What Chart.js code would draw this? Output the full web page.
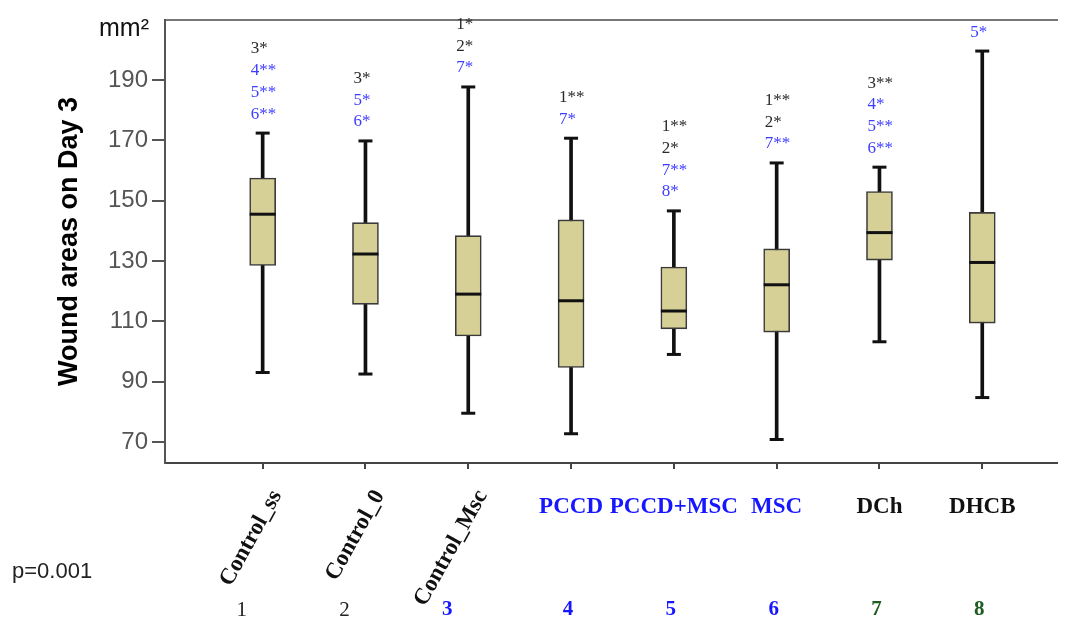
<!DOCTYPE html>
<html>
<head>
<meta charset="utf-8">
<title>Wound areas on Day 3</title>
<script src="https://cdn.jsdelivr.net/npm/chart.js@4.4.1/dist/chart.umd.min.js"></script>
<style>
  html, body { margin: 0; padding: 0; background: #ffffff; }
  #wrap { width: 1073px; height: 621px; }
</style>
</head>
<body>
<div id="wrap"><canvas id="woundChart" width="1073" height="621"></canvas></div>
<script>
// Groups and box-plot summaries (mm²)
const groups = ['Control_ss', 'Control_0', 'Control_Msc', 'PCCD', 'PCCD+MSC', 'MSC', 'DCh', 'DHCB'];
const groupNumbers = ['1', '2', '3', '4', '5', '6', '7', '8'];
const whiskerLow  = [93.0, 92.5, 79.5, 72.7, 99.0, 70.8, 103.2, 84.7];
const q1          = [128.5, 115.6, 105.1, 94.7, 107.5, 106.4, 130.3, 109.4];
const median      = [145.5, 132.3, 119.0, 116.8, 113.4, 122.1, 139.4, 129.5];
const q3          = [157.5, 142.7, 138.4, 143.6, 128.0, 134.0, 153.0, 146.1];
const whiskerHigh = [172.4, 169.8, 187.7, 170.7, 146.6, 162.5, 161.1, 199.6];
const yTicks = [70, 90, 110, 130, 150, 170, 190];

// Pairwise significance marks shown above each group
const sigMarks = [
  ['3*', '4**', '5**', '6**'],
  ['3*', '5*', '6*'],
  ['1*', '2*', '7*'],
  ['1**', '7*'],
  ['1**', '2*', '7**', '8*'],
  ['1**', '2*', '7**'],
  ['3**', '4*', '5**', '6**'],
  ['5*']
];
const sigHighlighted = [
  [false, true, true, true],
  [false, true, true],
  [false, false, true],
  [false, true],
  [false, false, true, true],
  [false, false, true],
  [false, true, true, true],
  [true]
];
const pValue = 'p=0.001';
const yUnit = 'mm²';
const yTitle = 'Wound areas on Day 3';

// Styling
const BOX_FILL = '#d6d096';
const INK = '#111111';
const MARK_BLUE = '#3d3dff';
const LABEL_BLUE = '#1616ff';
const NUM_GREEN = '#1f5c1f';
const labelInk = ['#111', '#111', '#111', LABEL_BLUE, LABEL_BLUE, LABEL_BLUE, '#111', '#111'];
const numberInk = ['#222', '#222', LABEL_BLUE, LABEL_BLUE, LABEL_BLUE, LABEL_BLUE, NUM_GREEN, NUM_GREEN];
const numberBold = [false, false, true, true, true, true, true, true];
const SANS = '"Liberation Sans", Arial, sans-serif';
const SERIF = '"Liberation Serif", "Times New Roman", serif';

const xs = groups.map((_, i) => i + 1);

const annotate = {
  id: 'annotate',
  afterDraw(chart) {
    const { ctx, chartArea, scales: { x, y } } = chart;
    ctx.save();

    // unit above the y axis
    ctx.fillStyle = '#111';
    ctx.font = '25px ' + SANS;
    ctx.textAlign = 'right';
    ctx.textBaseline = 'alphabetic';
    ctx.fillText(yUnit, 149, 36);

    // y axis title
    ctx.save();
    ctx.translate(70, (chartArea.top + chartArea.bottom) / 2);
    ctx.rotate(-Math.PI / 2);
    ctx.font = 'bold 27px ' + SANS;
    ctx.textAlign = 'center';
    ctx.textBaseline = 'middle';
    ctx.fillStyle = '#000';
    ctx.fillText(yTitle, 0, 0);
    ctx.restore();

    // significance marks above the upper whiskers
    ctx.font = '17px ' + SERIF;
    ctx.textAlign = 'left';
    ctx.textBaseline = 'middle';
    sigMarks.forEach((marks, i) => {
      const px = x.getPixelForValue(xs[i]) - 12;
      const lastY = y.getPixelForValue(whiskerHigh[i]) - 19;
      const n = marks.length;
      marks.forEach((m, j) => {
        ctx.fillStyle = sigHighlighted[i][j] ? MARK_BLUE : '#2a2a2a';
        ctx.fillText(m, px, lastY - (n - 1 - j) * 21.7);
      });
    });

    // group names
    groups.forEach((g, i) => {
      const px = x.getPixelForValue(xs[i]);
      ctx.fillStyle = labelInk[i];
      ctx.font = 'bold 23px ' + SERIF;
      if (i < 3) {
        ctx.save();
        ctx.translate(px + 14, 492);
        ctx.rotate(-61 * Math.PI / 180);
        ctx.textAlign = 'right';
        ctx.textBaseline = 'middle';
        ctx.fillText(g, 0, 0);
        ctx.restore();
      } else {
        ctx.textAlign = 'center';
        ctx.textBaseline = 'middle';
        ctx.fillText(g, px, 507);
      }
    });

    // group numbers
    groupNumbers.forEach((t, i) => {
      const px = x.getPixelForValue(xs[i]) + (i < 3 ? -21 : -3);
      ctx.fillStyle = numberInk[i];
      ctx.font = (numberBold[i] ? 'bold ' : '') + '21px ' + SERIF;
      ctx.textAlign = 'center';
      ctx.textBaseline = 'middle';
      ctx.fillText(t, px, 610);
    });

    // overall test result
    ctx.fillStyle = '#222';
    ctx.font = '22px ' + SANS;
    ctx.textAlign = 'left';
    ctx.textBaseline = 'middle';
    ctx.fillText(pValue, 12, 572);

    ctx.restore();
  }
};

const X_MIN = 0.05, X_MAX = 8.727;

new Chart(document.getElementById('woundChart'), {
  type: 'bar',
  data: {
    datasets: [
      {
        label: 'whisker',
        type: 'bar',
        data: xs.map((v, i) => ({ x: v, y: [whiskerLow[i], whiskerHigh[i]] })),
        backgroundColor: INK,
        borderWidth: 0,
        barThickness: 3,
        grouped: false,
        order: 4
      },
      {
        label: 'box',
        type: 'bar',
        data: xs.map((v, i) => ({ x: v, y: [q1[i], q3[i]] })),
        backgroundColor: BOX_FILL,
        borderColor: '#3a3a3a',
        borderWidth: 1.6,
        borderSkipped: false,
        barThickness: 26,
        grouped: false,
        order: 3
      },
      {
        label: 'median',
        type: 'scatter',
        data: xs.map((v, i) => ({ x: v, y: median[i] })),
        pointStyle: 'line',
        radius: 13,
        borderWidth: 3,
        borderColor: INK,
        order: 2
      },
      {
        label: 'caps',
        type: 'scatter',
        data: xs.flatMap((v, i) => [{ x: v, y: whiskerLow[i] }, { x: v, y: whiskerHigh[i] }]),
        pointStyle: 'line',
        radius: 7,
        borderWidth: 3,
        borderColor: INK,
        order: 1
      }
    ]
  },
  options: {
    responsive: false,
    animation: false,
    events: [],
    layout: { padding: { left: 0, right: 13, top: 0, bottom: 0 } },
    plugins: { legend: { display: false }, tooltip: { enabled: false } },
    scales: {
      x: {
        type: 'linear',
        position: 'bottom',
        offset: false,
        min: X_MIN,
        max: X_MAX,
        afterBuildTicks: s => { s.ticks = xs.map(v => ({ value: v })); },
        afterFit: s => { s.height = 158; },
        ticks: { display: false },
        grid: { offset: false, drawOnChartArea: false, drawTicks: true, tickLength: 6, color: '#444', lineWidth: 2 },
        border: { display: true, color: '#444', width: 2 }
      },
      xTop: {
        type: 'linear',
        position: 'top',
        offset: false,
        min: X_MIN,
        max: X_MAX,
        afterFit: s => { s.height = 20; },
        ticks: { display: false },
        grid: { display: false },
        border: { display: true, color: '#777', width: 2 }
      },
      y: {
        type: 'linear',
        min: 63,
        max: 209.9,
        afterBuildTicks: s => { s.ticks = yTicks.map(v => ({ value: v })); },
        afterFit: s => { s.width = 165; },
        ticks: { color: '#555', font: { family: SANS, size: 24 }, padding: 4 },
        grid: { drawOnChartArea: false, drawTicks: true, tickLength: 13, color: '#555', lineWidth: 2 },
        border: { display: true, color: '#555', width: 2 }
      }
    }
  },
  plugins: [annotate]
});
</script>
</body>
</html>
